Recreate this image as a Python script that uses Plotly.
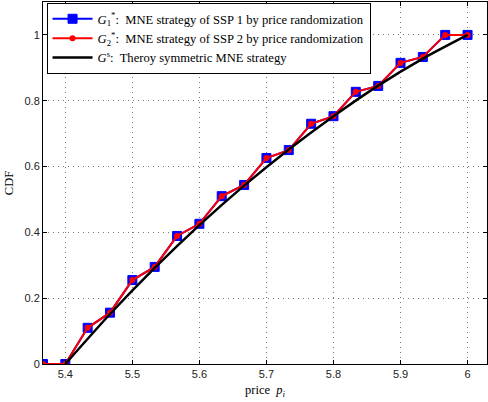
import plotly.graph_objects as go

price = [5.3667, 5.4, 5.4333, 5.4667, 5.5, 5.5333, 5.5667, 5.6, 5.6333, 5.6667,
         5.7, 5.7333, 5.7667, 5.8, 5.8333, 5.8667, 5.9, 5.9333, 5.9667, 6.0]
cdf_ssp1 = [0, 0, 0.11, 0.156, 0.255, 0.295, 0.389, 0.426, 0.51, 0.544,
            0.626, 0.65, 0.73, 0.753, 0.827, 0.845, 0.915, 0.933, 1.0, 1.0]
cdf_ssp2 = [0, 0, 0.11, 0.156, 0.255, 0.295, 0.389, 0.426, 0.51, 0.544,
            0.626, 0.65, 0.73, 0.753, 0.827, 0.845, 0.915, 0.933, 1.0, 1.0]
theory_price = [5.4, 5.4667, 5.5333, 5.6, 5.6667, 5.7333, 5.8, 5.8667, 5.9333, 6.0]
theory_cdf = [0, 0.152, 0.292, 0.422, 0.542, 0.652, 0.753, 0.846, 0.928, 1.0]

xticks = [5.4, 5.5, 5.6, 5.7, 5.8, 5.9, 6.0]
xticklabels = ["5.4", "5.5", "5.6", "5.7", "5.8", "5.9", "6"]
yticks = [0, 0.2, 0.4, 0.6, 0.8, 1.0]
yticklabels = ["0", "0.2", "0.4", "0.6", "0.8", "1"]

serif = "Liberation Serif"
sans = "Liberation Sans"

fig = go.Figure()
fig.add_trace(go.Scatter(
    x=price, y=cdf_ssp1, mode="lines+markers",
    line=dict(color="#0000ff", width=2),
    marker=dict(symbol="square", size=9, color="#0000ff", line=dict(color="#0000ff", width=1)),
    name="<i>G</i><sub>1</sub><sup>*</sup>:  MNE strategy of SSP 1 by price randomization",
))
fig.add_trace(go.Scatter(
    x=price, y=cdf_ssp2, mode="lines+markers",
    line=dict(color="#ff0000", width=2),
    marker=dict(symbol="circle", size=6, color="#ff0000"),
    name="<i>G</i><sub>2</sub><sup>*</sup>:  MNE strategy of SSP 2 by price randomization",
))
fig.add_trace(go.Scatter(
    x=theory_price, y=theory_cdf, mode="lines",
    line=dict(color="#000000", width=2.5, shape="spline", smoothing=0.6),
    name="<i>G</i><sup>s</sup>:  Theroy symmetric MNE strategy",
))

fig.update_layout(
    width=488, height=402,
    margin=dict(l=43, r=1, t=2, b=38),
    paper_bgcolor="white", plot_bgcolor="white",
    showlegend=True,
    hovermode=False,
    legend=dict(
        x=0.008, y=0.997, xanchor="left", yanchor="top",
        bgcolor="white", bordercolor="black", borderwidth=1,
        font=dict(family=serif, size=12.6, color="black"),
        tracegroupgap=0, itemwidth=40,
    ),
    xaxis=dict(
        range=[5.3667, 6.029], tickvals=xticks, ticktext=xticklabels,
        ticks="inside", ticklen=4, tickcolor="black",
        showline=True, linecolor="black", linewidth=1, mirror="ticks",
        showgrid=True, gridcolor="#777777", griddash="1px,4px", gridwidth=1,
        zeroline=False,
        tickfont=dict(family=sans, size=11, color="#222222"),
        title=dict(text="price  <i>p</i><sub><i>i</i></sub>", font=dict(family=serif, size=12.5, color="black"), standoff=6),
    ),
    yaxis=dict(
        range=[0, 1.1], tickvals=yticks, ticktext=yticklabels,
        ticks="inside", ticklen=4, tickcolor="black",
        showline=True, linecolor="black", linewidth=1, mirror="ticks",
        showgrid=True, gridcolor="#777777", griddash="1px,4px", gridwidth=1,
        zeroline=False,
        tickfont=dict(family=sans, size=11, color="#222222"),
        title=dict(text="CDF", font=dict(family=serif, size=12.5, color="black"), standoff=8),
    ),
)

fig.write_html("out.html", config={"displayModeBar": False},
               post_script="document.body.style.margin='0';document.body.style.overflow='hidden';")
